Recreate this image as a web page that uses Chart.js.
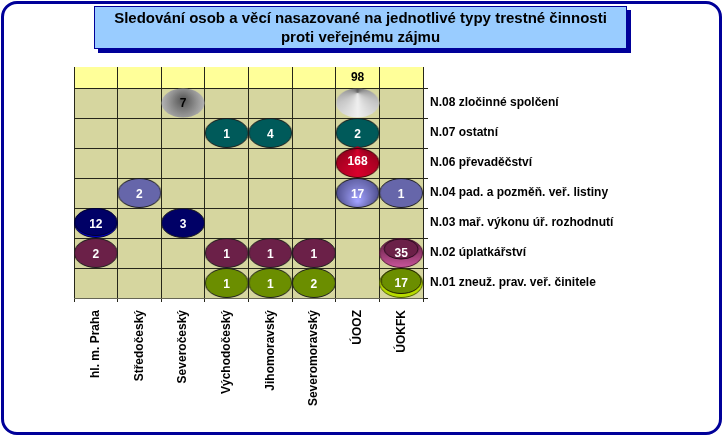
<!DOCTYPE html>
<html lang="cs">
<head>
<meta charset="utf-8">
<title>Sledování osob a věcí</title>
<script src="https://cdn.jsdelivr.net/npm/chart.js@4"></script>
<style>
    html, body { margin: 0; padding: 0; background: #fff; }
    #wrap { position: relative; width: 728px; height: 440px; overflow: hidden; }
    #frame {
        position: absolute; left: 1px; top: 1px; width: 715px; height: 428px;
        border: 3px solid #000099; border-radius: 16px;
    }
    #heading {
        position: absolute; left: 94px; top: 6px; width: 531px; height: 40px;
        background: #99ccff; border: 1px solid #000099; box-shadow: 4px 4px 0 #000099;
        font: bold 15px "Liberation Sans", Arial, sans-serif; color: #000;
        text-align: center; line-height: 19px; padding-top: 1px; box-sizing: content-box;
    }
    canvas { position: absolute; left: 0; top: 0; }
</style>
</head>
<body>
<div id="wrap">
    <div id="frame"></div>
    <canvas id="chart" width="728" height="440"></canvas>
    <div id="heading">Sledování osob a věcí nasazované na jednotlivé typy trestné činnosti<br>proti veřejnému zájmu</div>
</div>
<script>
const regions = ['hl. m. Praha', 'Středočeský', 'Severočeský', 'Východočeský', 'Jihomoravský', 'Severomoravský', 'ÚOOZ', 'ÚOKFK'];
const rowNames = [
    'N.01 zneuž. prav. veř. činitele',
    'N.02 úplatkářství',
    'N.03 mař. výkonu úř. rozhodnutí',
    'N.04 pad. a pozměň. veř. listiny',
    'N.06 převaděčství',
    'N.07 ostatní',
    'N.08 zločinné spolčení',
];
const n01 = [null, null, null, 1, 1, 2, null, 17];
const n02 = [2, null, null, 1, 1, 1, null, 35];
const n03 = [12, null, 3, null, null, null, null, null];
const n04 = [null, 2, null, null, null, null, 17, 1];
const n06 = [null, null, null, null, null, null, 168, null];
const n07 = [null, null, null, 1, 4, null, 2, null];
const n08 = [null, null, 7, null, null, null, 98, null];
const rowValues = [n01, n02, n03, n04, n06, n07, n08];
const rowColors = ['#6b8e00', '#6b2048', '#000066', '#6666aa', '#a00020', '#005a5a', '#999999'];

const RX = 21.5, RY = 14.5, CX = 22, CY = 20;

function sprite(paint) {
    const c = document.createElement('canvas');
    c.width = 44;
    c.height = 40;
    paint(c.getContext('2d'));
    return c;
}

function oval(g, fill, stroke, rx = RX, ry = RY, cy = CY) {
    g.beginPath();
    g.ellipse(CX, cy, rx, ry, 0, 0, Math.PI * 2);
    g.fillStyle = fill;
    g.fill();
    if (stroke) {
        g.strokeStyle = stroke;
        g.lineWidth = 1;
        g.stroke();
    }
}

function coneFill(g, apexY, stops) {
    const grad = g.createConicGradient(-Math.PI / 2, CX, apexY);
    stops.forEach((c, i) => grad.addColorStop(i / (stops.length - 1), c));
    return grad;
}

// the odd cells in the picture, keyed by row and column
const sprites = {
    flat: (color) => sprite((g) => oval(g, color, '#1c1c1c')),
    '6|2': () => sprite((g) => {
        const grad = g.createRadialGradient(CX, CY - 3, 2, CX, CY, RX);
        grad.addColorStop(0, '#5c5c5c');
        grad.addColorStop(0.55, '#8f8f8f');
        grad.addColorStop(1, '#b5b5b5');
        oval(g, grad);
    }),
    '6|6': () => sprite((g) => oval(g, coneFill(g, CY - 10, ['#5a5a5a', '#8a8a8a', '#c8c8c8', '#f0f0f0', '#c8c8c8', '#8a8a8a', '#5a5a5a']))),
    '4|6': () => sprite((g) => {
        const fill = coneFill(g, CY - 16, ['#8a0018', '#6a0010', '#a00020', '#d8002c', '#a00020', '#6a0010', '#8a0018']);
        g.beginPath();
        g.moveTo(CX, CY - 17);
        g.lineTo(CX + 13, CY - 10);
        g.lineTo(CX - 13, CY - 10);
        g.closePath();
        g.fillStyle = '#a00020';
        g.fill();
        oval(g, fill, '#3a0008');
    }),
    '3|6': () => sprite((g) => {
        const grad = g.createRadialGradient(CX, CY + 8, 1, CX, CY, RX);
        grad.addColorStop(0, '#a0a0ff');
        grad.addColorStop(0.6, '#7070b8');
        grad.addColorStop(1, '#4f4f90');
        oval(g, grad, '#1c1c1c');
    }),
    '2|0': () => sprite((g) => {
        oval(g, '#0000cc', '#000033');
        oval(g, '#000066', '#000033', RX - 0.5, RY - 1, CY - 1);
    }),
    '1|7': () => sprite((g) => {
        const grad = g.createLinearGradient(0, CY - RY, 0, CY + RY);
        grad.addColorStop(0, '#5a1a3c');
        grad.addColorStop(1, '#c8559a');
        oval(g, grad, '#4a1530');
        oval(g, '#6b2048', '#2e0c20', 17, 10, CY - 4);
    }),
    '0|7': () => sprite((g) => {
        oval(g, '#b8dc00', '#4c6000');
        oval(g, '#6b8e00', '#1c1c00', 20, 12.5, CY - 2);
    }),
};

const labelShift = { '4|6': -3, '3|6': 0, '1|7': -1, '0|7': -1, '6|2': -1 };

const datasets = rowNames.map((name, r) => ({
    label: name,
    data: regions.flatMap((region, c) => rowValues[r][c] === null ? [] : [{ x: region, y: r + 0.5, value: rowValues[r][c], col: c }]),
    pointStyle: (ctx) => {
        const p = ctx.raw;
        if (!p) return 'circle';
        const key = r + '|' + p.col;
        cache[key] = cache[key] || (sprites[key] ? sprites[key]() : sprites.flat(rowColors[r]));
        return cache[key];
    },
    pointRadius: 15,
    pointHoverRadius: 15,
    clip: false,
}));
const cache = {};

// plot background and the pale band on top
const plotBackground = {
    id: 'plotBackground',
    beforeDraw(chart) {
        const { ctx, chartArea: a, scales } = chart;
        const y7 = scales.y.getPixelForValue(7);
        ctx.save();
        ctx.fillStyle = '#d6d69f';
        ctx.fillRect(a.left, y7, a.right - a.left, a.bottom - y7);
        ctx.fillStyle = '#ffff99';
        ctx.fillRect(a.left, a.top, a.right - a.left, y7 - a.top);
        ctx.restore();
    },
};

// numbers on the bubbles, the 98 sits up in the band
const valueLabels = {
    id: 'valueLabels',
    afterDatasetsDraw(chart) {
        const { ctx, scales } = chart;
        ctx.save();
        ctx.font = 'bold 12px "Liberation Sans", Arial, sans-serif';
        ctx.textAlign = 'center';
        ctx.textBaseline = 'middle';
        chart.data.datasets.forEach((ds, r) => {
            chart.getDatasetMeta(r).data.forEach((pt, i) => {
                const item = ds.data[i];
                const key = r + '|' + item.col;
                if (item.value === 98) {
                    ctx.fillStyle = '#000';
                    ctx.fillText(item.value, pt.x, scales.y.getPixelForValue(7.35));
                    return;
                }
                ctx.fillStyle = item.value === 7 ? '#000' : '#fff';
                ctx.fillText(item.value, pt.x, pt.y + 2 + (labelShift[key] || 0));
            });
        });
        ctx.restore();
    },
};

new Chart(document.getElementById('chart').getContext('2d'), {
    type: 'scatter',
    data: { labels: regions, datasets },
    options: {
        responsive: false,
        animation: false,
        layout: { padding: { left: 74, top: 67, right: 0, bottom: 0 } },
        plugins: { legend: { display: false }, title: { display: false }, tooltip: { enabled: false } },
        scales: {
            x: {
                type: 'category',
                offset: true,
                afterFit: (scale) => { scale.height = 142; },
                grid: { offset: true, color: '#26261a', tickColor: '#26261a', tickLength: 4 },
                border: { color: '#666655' },
                ticks: {
                    color: '#000',
                    font: { family: '"Liberation Sans", Arial, sans-serif', size: 12, weight: 'bold' },
                    minRotation: 90,
                    maxRotation: 90,
                    padding: 8,
                    autoSkip: false,
                },
            },
            y: {
                type: 'linear',
                position: 'right',
                min: 0,
                max: 7.7,
                afterFit: (scale) => { scale.width = 305; },
                afterBuildTicks: (scale) => {
                    const ticks = [];
                    for (let v = 0; v <= 7; v += 0.5) ticks.push({ value: v });
                    scale.ticks = ticks;
                },
                grid: {
                    color: (ctx) => ctx.tick && ctx.tick.value % 1 ? 'transparent' : '#26261a',
                    tickColor: (ctx) => ctx.tick && ctx.tick.value % 1 ? 'transparent' : '#26261a',
                    tickLength: 5,
                },
                border: { color: '#26261a' },
                ticks: {
                    color: '#000',
                    font: { family: '"Liberation Sans", Arial, sans-serif', size: 12, weight: 'bold' },
                    padding: 2,
                    autoSkip: false,
                    callback: (v) => v % 1 ? rowNames[Math.floor(v)] : '',
                },
            },
        },
    },
    plugins: [plotBackground, valueLabels],
});
</script>
</body>
</html>
